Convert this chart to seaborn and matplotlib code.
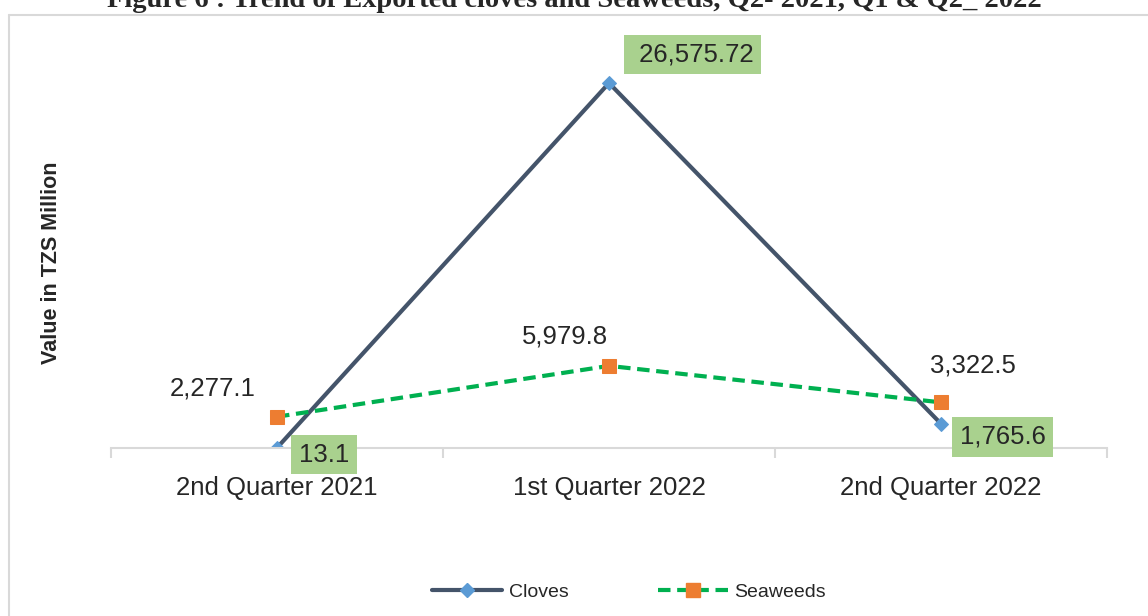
import matplotlib
matplotlib.use("Agg")
import matplotlib.pyplot as plt
import matplotlib.font_manager as fm
from matplotlib.lines import Line2D
import pandas as pd
import seaborn as sns

# ---------------------------------------------------------------------------
# Data
# ---------------------------------------------------------------------------
quarters = ["2nd Quarter 2021", "1st Quarter 2022", "2nd Quarter 2022"]
cloves = [13.1, 26575.72, 1765.6]
seaweeds = [2277.1, 5979.8, 3322.5]
cloves_labels = ["13.1", " 26,575.72", "1,765.6"]
seaweeds_labels = ["2,277.1", "5,979.8", "3,322.5"]

# ---------------------------------------------------------------------------
# Style
# ---------------------------------------------------------------------------
sns.set_style("white")
names = {f.name for f in fm.fontManager.ttflist}
NARROW = "Liberation Sans Narrow" in names
SANS = "Liberation Sans Narrow" if NARROW else "Liberation Sans"
plt.rcParams["font.family"] = [SANS, "DejaVu Sans"]

LBL = 22.5 if NARROW else 18.5
TICK = 22.5 if NARROW else 18.5
LEG = 17.5 if NARROW else 14

GRID = "#d9d9d9"
C_LINE, C_MARK = "#44546a", "#5b9bd5"
S_LINE, S_MARK = "#00b050", "#ed7d31"
BOX = "#a9d18e"

fig = plt.figure(figsize=(11.48, 6.16), dpi=100)
ax = fig.add_axes([111 / 1148, 1 - 448 / 616, 996 / 1148, 412 / 616])

df = pd.DataFrame({"quarter": quarters, "cloves": cloves, "seaweeds": seaweeds})

sns.lineplot(data=df, x="quarter", y="cloves", ax=ax, color=C_LINE, lw=3,
             marker="D", ms=7.5, markerfacecolor=C_MARK, markeredgecolor=C_MARK,
             sort=False)
sns.lineplot(data=df, x="quarter", y="seaweeds", ax=ax, color=S_LINE, lw=3,
             marker="s", ms=10, markerfacecolor=S_MARK,
             markeredgecolor=S_MARK, sort=False)
ax.lines[1].set_linestyle((0, (3, 1.6)))

# data labels
c_off = [(34, -5), (60, 20.5), (44.5, -9.5)]
for i, (v, t) in enumerate(zip(cloves, cloves_labels)):
    ax.annotate(t, (i, v), xytext=c_off[i], textcoords="offset points",
                ha="center", va="center", fontsize=LBL,
                bbox=dict(boxstyle="square,pad=0.3", fc=BOX, ec="none"))
s_off = [(-46, 20), (-32, 21.5), (23, 26.5)]
for i, (v, t) in enumerate(zip(seaweeds, seaweeds_labels)):
    ax.annotate(t, (i, v), xytext=s_off[i], textcoords="offset points",
                ha="center", va="center", fontsize=LBL)

# axes
ax.set_xlim(-0.5, 2.5)
ax.set_ylim(0, 30000)
ax.set_xlabel("")
ax.set_ylabel("")
ax.set_yticks([])
for s in ["top", "right", "left"]:
    ax.spines[s].set_visible(False)
ax.spines["bottom"].set_color(GRID)
ax.spines["bottom"].set_linewidth(1.5)
ax.set_xticks(range(3))
ax.set_xticklabels(quarters, fontsize=TICK)
ax.set_xticks([-0.5, 0.5, 1.5, 2.5], minor=True)
ax.tick_params(axis="x", which="major", bottom=True, length=0, pad=20)
ax.tick_params(axis="x", which="minor", bottom=True, length=7, width=1.5,
               color=GRID, direction="out")

fig.text(52 / 1148, 1 - 263 / 616, "Value in TZS Million", rotation=90,
         ha="center", va="center", fontsize=15.5, fontweight="bold")

# title (cut off at the top, as in the source)
fig.text(0.5, 1 - 7 / 616,
         "Figure 6 : Trend of Exported cloves and Seaweeds, Q2- 2021, Q1 & Q2_ 2022",
         ha="center", va="baseline", fontsize=20.5, fontweight="bold",
         family="Liberation Serif")

# chart frame
fig.add_artist(Line2D([9 / 1148, 9 / 1148], [0, 1 - 15 / 616],
                      transform=fig.transFigure, color=GRID, lw=1.5))
fig.add_artist(Line2D([9 / 1148, 1], [1 - 15 / 616, 1 - 15 / 616],
                      transform=fig.transFigure, color=GRID, lw=1.5))

# legend
handles = [
    Line2D([], [], color=C_LINE, lw=3, marker="D", ms=7.5,
           markerfacecolor=C_MARK, markeredgecolor=C_MARK),
    Line2D([], [], color=S_LINE, lw=3, ls=(0, (3, 1.6)), marker="s", ms=10,
           markerfacecolor=S_MARK, markeredgecolor=S_MARK),
]
fig.legend(handles, ["Cloves", "Seaweeds"], loc="center",
           bbox_to_anchor=(629 / 1148, 1 - 592 / 616), ncol=2, frameon=False,
           fontsize=LEG, handlelength=3.6, handletextpad=0.35, columnspacing=4.6)

fig.savefig("out.png", dpi=100)
